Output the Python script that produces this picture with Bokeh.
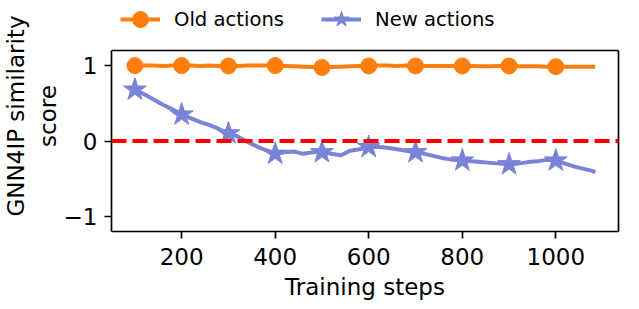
from bokeh.plotting import figure
from bokeh.models import Legend, LegendItem, Range1d, FixedTicker, Span, LinearAxis
from bokeh.embed import file_html
from bokeh.resources import INLINE

steps = [100, 120, 140, 160, 180, 200, 220, 240, 260, 280,
         300, 320, 340, 360, 380, 400, 420, 440, 460, 480,
         500, 520, 540, 560, 580, 600, 620, 640, 660, 680,
         700, 720, 740, 760, 780, 800, 820, 840, 860, 880,
         900, 920, 940, 960, 980, 1000, 1020, 1040, 1060, 1080, 1084]

old_actions = [1.00, 1.00, 1.00, 0.995, 1.00, 1.00, 1.00, 0.995, 1.00, 0.995,
               0.995, 0.995, 1.00, 1.00, 1.00, 1.00, 0.995, 0.99, 0.985, 0.98,
               0.975, 0.98, 0.985, 0.99, 0.995, 0.995, 1.00, 1.00, 0.995, 1.00,
               0.995, 0.995, 0.995, 0.995, 0.995, 0.995, 0.995, 0.99, 0.99, 0.995,
               0.995, 0.99, 0.99, 0.99, 0.985, 0.985, 0.985, 0.985, 0.985, 0.985, 0.985]

new_actions = [0.68, 0.62, 0.55, 0.48, 0.42, 0.35, 0.30, 0.25, 0.21, 0.16,
               0.10, 0.06, -0.01, -0.07, -0.12, -0.17, -0.15, -0.14, -0.17, -0.15,
               -0.15, -0.17, -0.19, -0.13, -0.11, -0.08, -0.08, -0.09, -0.11, -0.13,
               -0.15, -0.17, -0.20, -0.23, -0.25, -0.26, -0.27, -0.28, -0.29, -0.30,
               -0.31, -0.30, -0.28, -0.27, -0.25, -0.26, -0.30, -0.34, -0.37, -0.40, -0.42]

# markers every 100 training steps (100 ... 1000)
marker_idx = list(range(0, 50, 5))
mark_steps = [steps[i] for i in marker_idx]
mark_old = [old_actions[i] for i in marker_idx]
mark_new = [new_actions[i] for i in marker_idx]

x_ticks = [200, 400, 600, 800, 1000]
y_ticks = [-1, 0, 1]
x_lim = (50, 1134)
y_lim = (-1.2, 1.2)
legend_room = 0.663  # extra room above the axes box (data units) for the legend

ORANGE = "#ff7f0e"
BLUE = "#7a84d6"
FONT = "DejaVu Sans"
SPINE = 1.7

p = figure(width=631, height=305, output_backend="svg", toolbar_location=None,
           x_range=Range1d(*x_lim), y_range=Range1d(y_lim[0], y_lim[1] + legend_room),
           min_border_left=109, min_border_right=13, min_border_top=0,
           min_border_bottom=74)
p.grid.visible = False
p.outline_line_color = None
p.background_fill_color = "white"
p.border_fill_color = "white"

xa = p.xaxis[0]
ya = p.yaxis[0]
for ax in (xa, ya):
    ax.axis_line_color = "black"
    ax.axis_line_width = SPINE
    ax.major_tick_line_color = "black"
    ax.major_tick_line_width = SPINE
    ax.major_tick_out = 7
    ax.major_tick_in = 0
    ax.minor_tick_line_color = None
    ax.major_label_text_font = FONT
    ax.major_label_text_font_size = "23px"
    ax.major_label_text_color = "black"
    ax.axis_label_text_font = FONT
    ax.axis_label_text_font_size = "23px"
    ax.axis_label_text_font_style = "normal"
    ax.axis_label_text_color = "black"

xa.ticker = FixedTicker(ticks=x_ticks)
ya.ticker = FixedTicker(ticks=y_ticks)
ya.bounds = y_lim
ya.major_label_overrides = {-1: "\u22121", 0: "0", 1: "1"}
xa.axis_label = "Training steps"
ya.axis_label = "GNN4IP similarity\nscore"
xa.major_label_standoff = 9
ya.major_label_standoff = 7
xa.axis_label_standoff = 6
ya.axis_label_standoff = 0

# right spine
ra = LinearAxis(ticker=FixedTicker(ticks=[]), bounds=y_lim, axis_line_color="black",
                axis_line_width=SPINE, major_tick_line_color=None,
                minor_tick_line_color=None, major_label_text_font_size="0px")
p.add_layout(ra, "right")
# top spine
p.add_layout(Span(location=y_lim[1], dimension="width", line_color="black",
                  line_width=SPINE))

p.add_layout(Span(location=0, dimension="width", line_color="red",
                  line_width=4, line_dash="15 6"))

l_old = p.line(steps, old_actions, line_color=ORANGE, line_width=4, line_join="round")
m_old = p.scatter(mark_steps, mark_old, marker="circle", size=16,
                  fill_color=ORANGE, line_color=ORANGE)
l_new = p.line(steps, new_actions, line_color=BLUE, line_width=4, line_join="round")
m_new = p.scatter(mark_steps, mark_new, marker="star", size=24,
                  fill_color=BLUE, line_color=BLUE)

legend = Legend(items=[LegendItem(label="Old actions", renderers=[l_old, m_old]),
                       LegendItem(label="New actions", renderers=[l_new, m_new])],
                orientation="horizontal", location=(9, 192),
                border_line_color=None, background_fill_alpha=0,
                padding=0, margin=0, glyph_width=40, glyph_height=40,
                label_standoff=14, spacing=37,
                label_text_font=FONT, label_text_font_size="19.6px",
                label_text_color="black")
p.add_layout(legend, "center")

open("out.html", "w").write(file_html(p, INLINE))
